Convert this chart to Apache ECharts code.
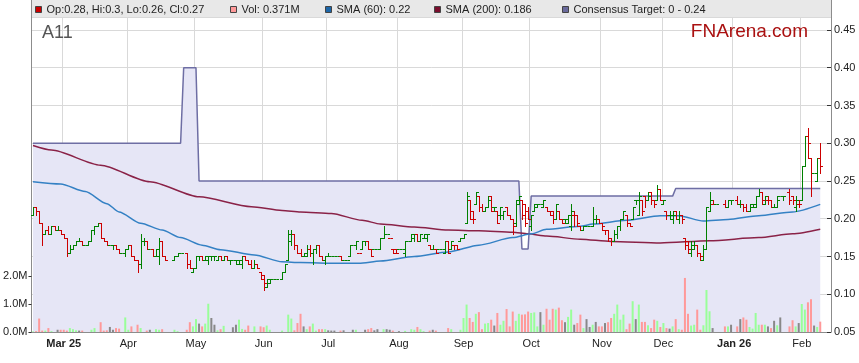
<!DOCTYPE html>
<html><head><meta charset="utf-8">
<script src="https://cdn.jsdelivr.net/npm/echarts@6/dist/echarts.min.js"></script>
<style>html,body{margin:0;padding:0;background:#fff}#c{width:859px;height:363px}</style>
</head><body><div id="c"></div>
<script>
// ---------- data ----------
const firstDay = [2025, 1, 17];   // axis starts Mon 17 Feb 2025 (weekdays only)
const lastDay = [2026, 1, 13];    // axis ends Fri 13 Feb 2026
const monthLabels = {'2025-03':'Mar 25','2025-04':'Apr','2025-05':'May','2025-06':'Jun','2025-07':'Jul','2025-08':'Aug',
  '2025-09':'Sep','2025-10':'Oct','2025-11':'Nov','2025-12':'Dec','2026-01':'Jan 26','2026-02':'Feb'};
const boldLabels = ['Mar 25', 'Jan 26'];
const priceTickLabels = ['0.05','0.10','0.15','0.20','0.25','0.30','0.35','0.40','0.45'];
const volumeTickValues = [0, 1, 2];

// daily [open, high, low, close]; null = market holiday
const ohlc = [
[0.205,0.215,0.205,0.215],[0.215,0.215,0.205,0.21],[0.21,0.21,0.195,0.195],[0.195,0.195,0.165,0.18],[0.18,0.185,0.18,0.185],
[0.185,0.19,0.18,0.18],[0.18,0.19,0.18,0.19],[0.19,0.19,0.185,0.185],[0.185,0.19,0.185,0.185],[0.185,0.185,0.18,0.18],
[0.18,0.18,0.175,0.175],[0.175,0.175,0.15,0.155],[0.155,0.165,0.155,0.16],[0.16,0.165,0.16,0.165],[0.165,0.17,0.165,0.17],
[0.17,0.175,0.17,0.17],[0.17,0.17,0.165,0.165],[0.165,0.165,0.165,0.165],[0.165,0.17,0.165,0.17],[0.17,0.185,0.17,0.185],
[0.185,0.19,0.18,0.19],[0.19,0.195,0.19,0.195],[0.195,0.195,0.175,0.175],[0.175,0.175,0.17,0.17],[0.17,0.17,0.165,0.165],
[0.165,0.165,0.165,0.165],[0.165,0.165,0.16,0.165],[0.165,0.165,0.16,0.16],[0.16,0.16,0.155,0.155],[0.155,0.155,0.155,0.155],
[0.155,0.16,0.15,0.16],[0.16,0.165,0.16,0.165],[0.165,0.165,0.15,0.15],[0.15,0.15,0.145,0.145],[0.145,0.145,0.13,0.14],
[0.14,0.18,0.135,0.17],[0.17,0.175,0.165,0.17],[0.17,0.17,0.16,0.16],[0.16,0.16,0.16,0.16],[0.16,0.16,0.15,0.15],
[0.15,0.16,0.15,0.16],[0.15,0.175,0.14,0.17],[0.17,0.17,0.15,0.15],[0.15,0.15,0.145,0.145],null,
null,[0.145,0.15,0.145,0.15],[0.15,0.155,0.15,0.155],[0.155,0.155,0.155,0.155],null,
[0.155,0.155,0.135,0.14],[0.14,0.145,0.135,0.135],[0.13,0.135,0.13,0.135],[0.135,0.15,0.135,0.15],[0.15,0.15,0.145,0.15],
[0.15,0.15,0.145,0.145],[0.145,0.15,0.145,0.15],[0.145,0.15,0.14,0.15],[0.15,0.15,0.145,0.15],[0.15,0.15,0.145,0.15],
[0.145,0.15,0.145,0.15],[0.15,0.15,0.145,0.145],[0.145,0.15,0.145,0.15],[0.15,0.15,0.145,0.145],[0.145,0.145,0.14,0.145],
[0.145,0.145,0.145,0.145],[0.145,0.145,0.14,0.145],[0.14,0.145,0.14,0.145],[0.14,0.15,0.135,0.15],[0.15,0.15,0.145,0.145],
[0.145,0.145,0.14,0.14],[0.14,0.145,0.135,0.135],[0.135,0.145,0.135,0.14],[0.14,0.14,0.135,0.135],[0.13,0.13,0.12,0.12],
[0.125,0.125,0.105,0.115],[0.11,0.12,0.11,0.12],[0.115,0.12,0.115,0.12],[0.12,0.12,0.12,0.12],[0.12,0.12,0.12,0.12],
null,[0.12,0.13,0.12,0.13],[0.13,0.14,0.13,0.14],[0.145,0.185,0.145,0.18],[0.17,0.185,0.165,0.18],
[0.18,0.18,0.16,0.165],[0.165,0.165,0.155,0.155],[0.155,0.16,0.15,0.15],[0.15,0.155,0.15,0.15],[0.155,0.165,0.15,0.16],
[0.16,0.165,0.15,0.155],[0.155,0.16,0.14,0.16],[0.16,0.165,0.155,0.165],[0.165,0.165,0.15,0.15],[0.15,0.15,0.145,0.145],
[0.145,0.15,0.14,0.15],[0.15,0.155,0.15,0.15],[0.15,0.15,0.15,0.15],[0.15,0.15,0.15,0.15],[0.15,0.15,0.15,0.15],
[0.15,0.15,0.145,0.145],[0.145,0.145,0.145,0.145],[0.145,0.145,0.145,0.145],[0.15,0.165,0.15,0.165],[0.165,0.165,0.165,0.165],
[0.165,0.17,0.16,0.17],[0.155,0.155,0.155,0.155],[0.16,0.17,0.16,0.17],[0.17,0.17,0.165,0.17],[0.17,0.17,0.16,0.16],
[0.16,0.16,0.15,0.15],[0.16,0.16,0.16,0.16],[0.16,0.16,0.16,0.16],[0.16,0.175,0.16,0.175],[0.175,0.19,0.175,0.18],
[0.18,0.18,0.18,0.18],[0.175,0.175,0.175,0.175],[0.16,0.16,0.155,0.155],[0.16,0.16,0.155,0.155],[0.16,0.16,0.16,0.16],
[0.16,0.16,0.16,0.16],[0.155,0.17,0.15,0.17],[0.17,0.17,0.17,0.17],[0.17,0.18,0.17,0.18],[0.175,0.18,0.17,0.18],
[0.18,0.18,0.17,0.17],[0.17,0.18,0.17,0.18],[0.175,0.18,0.175,0.18],[0.175,0.18,0.17,0.18],[0.165,0.165,0.16,0.16],
[0.16,0.165,0.16,0.16],[0.16,0.16,0.155,0.155],[0.16,0.16,0.16,0.16],[0.16,0.16,0.16,0.16],[0.155,0.17,0.155,0.17],
[0.17,0.17,0.155,0.155],[0.16,0.17,0.16,0.17],[0.165,0.165,0.16,0.165],[0.165,0.165,0.16,0.16],[0.17,0.175,0.17,0.175],
[0.175,0.18,0.175,0.18],[0.195,0.235,0.195,0.23],[0.225,0.225,0.2,0.2],[0.21,0.21,0.195,0.2],[0.22,0.235,0.22,0.235],
[0.23,0.23,0.21,0.215],[0.215,0.22,0.21,0.21],[0.21,0.215,0.21,0.215],[0.215,0.23,0.215,0.225],[0.23,0.23,0.21,0.21],
[0.215,0.215,0.21,0.215],[0.21,0.21,0.195,0.195],[0.205,0.215,0.2,0.215],[0.205,0.21,0.2,0.21],[0.215,0.215,0.205,0.205],
[0.205,0.205,0.2,0.2],[0.2,0.2,0.18,0.19],[0.195,0.225,0.19,0.22],[0.225,0.23,0.22,0.23],[0.225,0.225,0.2,0.205],
[0.22,0.22,0.19,0.195],[0.21,0.215,0.2,0.2],[0.19,0.205,0.185,0.205],[0.21,0.22,0.21,0.22],[0.215,0.22,0.215,0.22],
[0.22,0.22,0.22,0.22],[0.215,0.225,0.215,0.225],[0.215,0.215,0.21,0.21],[0.21,0.21,0.205,0.205],[0.21,0.21,0.195,0.2],
[0.2,0.22,0.2,0.22],[0.21,0.21,0.2,0.2],[0.2,0.2,0.195,0.195],[0.2,0.2,0.195,0.2],[0.195,0.205,0.195,0.205],
[0.19,0.22,0.185,0.21],[0.205,0.21,0.19,0.205],[0.205,0.205,0.19,0.195],[0.19,0.19,0.185,0.185],[0.185,0.19,0.185,0.19],
[0.19,0.19,0.19,0.19],[0.19,0.19,0.19,0.19],[0.19,0.215,0.19,0.2],[0.2,0.205,0.195,0.2],[0.2,0.2,0.195,0.195],
[0.195,0.195,0.185,0.19],[0.185,0.185,0.18,0.185],[0.185,0.185,0.17,0.175],[0.175,0.175,0.165,0.17],[0.17,0.185,0.17,0.18],
[0.18,0.19,0.175,0.19],[0.19,0.2,0.185,0.2],[0.2,0.21,0.2,0.21],[0.205,0.205,0.19,0.195],[0.195,0.195,0.19,0.19],
[0.2,0.215,0.2,0.215],[0.225,0.225,0.22,0.225],[0.205,0.235,0.205,0.23],[0.225,0.225,0.205,0.21],[0.23,0.23,0.215,0.225],
[0.225,0.235,0.225,0.23],[0.235,0.235,0.22,0.225],[0.225,0.225,0.215,0.22],[0.225,0.245,0.225,0.24],[0.24,0.24,0.225,0.225],
[0.22,0.225,0.22,0.225],[0.21,0.21,0.2,0.205],[0.205,0.21,0.2,0.205],[0.2,0.21,0.195,0.205],[0.21,0.21,0.2,0.2],
[0.2,0.21,0.195,0.205],[0.205,0.205,0.195,0.2],[0.175,0.175,0.16,0.165],[0.17,0.17,0.155,0.16],[0.155,0.17,0.15,0.165],
[0.16,0.17,0.16,0.165],[0.165,0.165,0.15,0.155],[0.155,0.155,0.145,0.15],[0.145,0.165,0.145,0.16],[0.16,0.215,0.16,0.215],
[0.21,0.235,0.21,0.225],[0.22,0.225,0.22,0.22],[0.22,0.22,0.22,0.22],null,null,
[0.22,0.225,0.215,0.215],[0.215,0.225,0.215,0.225],[0.225,0.225,0.22,0.225],null,[0.225,0.23,0.22,0.22],
[0.22,0.225,0.215,0.22],[0.22,0.22,0.21,0.215],[0.215,0.22,0.21,0.21],[0.21,0.22,0.21,0.22],[0.215,0.22,0.215,0.22],
[0.215,0.23,0.215,0.23],[0.23,0.24,0.23,0.235],[0.235,0.235,0.22,0.225],[0.22,0.23,0.22,0.23],[0.225,0.23,0.22,0.225],
[0.225,0.225,0.215,0.215],[0.215,0.22,0.215,0.215],[0.215,0.23,0.215,0.225],[0.23,0.23,0.23,0.23],[0.23,0.23,0.225,0.23],
null,[0.235,0.24,0.22,0.225],[0.23,0.23,0.22,0.225],[0.215,0.23,0.21,0.225],[0.22,0.225,0.215,0.22],
[0.225,0.27,0.225,0.27],[0.27,0.31,0.27,0.31],[0.31,0.32,0.28,0.30],[0.28,0.28,0.23,0.26],[0.26,0.26,0.26,0.26],
[0.25,0.28,0.25,0.28],[0.28,0.30,0.26,0.27]
];

// daily volume, millions of shares
const volume = [
0.02,0.03,0.48,0.05,0.05,0.14,0.03,0,0.08,0.08,
0.08,0.05,0.14,0.1,0.06,0.05,0.05,0,0,0.08,
0.14,0,0.35,0.05,0.06,0.18,0.08,0.14,0.12,0,
0.52,0.08,0.2,0,0.26,0.14,0,0.05,0.08,0,
0.1,0.08,0.1,0,0,0,0.08,0.03,0,0,
0.08,0.35,0.2,0.46,0.3,0.2,0.3,1.01,0.5,0.26,
0.06,0.1,0.22,0,0,0.17,0.26,0.44,0.11,0.08,
0.23,0,0.2,0,0.2,0.17,0.23,0.08,0,0,
0,0.05,0,0.62,0.48,0.06,0.32,0.65,0.2,0.1,
0.2,0.3,0.05,0.1,0.1,0.1,0.06,0.05,0.05,0,
0.05,0.06,0,0,0.08,0.08,0,0,0.08,0.1,
0.14,0.06,0.1,0,0.1,0.1,0.08,0.05,0,0.03,
0,0.04,0,0.1,0.08,0.18,0.1,0.03,0,0.05,
0.08,0.05,0,0,0,0.14,0.1,0,0,0.08,
0.5,0.98,0.5,0.36,0.65,0.71,0.1,0.3,0.32,0.44,
0.23,0.68,0.26,0.4,0.82,0.2,0.73,0.4,0.65,0.62,
0.63,0.73,0.68,0.7,0.2,0.71,0.26,0.83,0.44,0.83,
0.8,0.87,0.42,0.35,0.54,0.8,0.26,0.32,0.62,0.14,
0.46,0.18,0.26,0.36,0.2,0.2,0.32,0.35,0.5,0.65,
0.98,0.44,0.62,0.1,0.3,1.1,0.46,0.98,0.36,0.36,
0.24,0.14,0.44,0.4,0.18,0.32,0.14,0.12,0.2,0.46,
0.1,0.08,1.93,0.65,0.23,0.26,0.8,0.08,0.24,1.5,
0.74,0.14,0,0,0,0.2,0.2,0.26,0,0.2,
0.46,0.52,0.44,0.18,0.12,0.68,0.26,0.26,0.26,0.2,
0.14,0.4,0.24,0.52,0,0,0.2,0.42,0.2,0.32,
1.0,0.8,1.06,1.17,0.23,0.18,0.37
];

// moving averages: [day index, value]
const sma60 = [[0,0.249],[9,0.246],[17,0.236],[24,0.22],[28,0.209],[35,0.194],[42,0.185],[48,0.175],[55,0.165],
  [61,0.159],[72,0.152],[81,0.143],[87,0.142],[99,0.141],[106,0.141],[113,0.144],[124,0.15],[135,0.156],[145,0.165],
  [156,0.175],[162,0.18],[167,0.186],[178,0.19],[182,0.193],[193,0.198],[204,0.204],[210,0.204],[218,0.197],
  [226,0.199],[236,0.204],[247,0.209],[256,0.219]];
const sma200 = [[0,0.297],[6,0.291],[22,0.271],[38,0.249],[54,0.229],[71,0.216],[81,0.211],[87,0.209],[97,0.207],
  [107,0.198],[113,0.193],[124,0.189],[135,0.185],[145,0.184],[156,0.182],[161,0.18],[167,0.177],[178,0.173],
  [188,0.17],[204,0.168],[220,0.171],[236,0.175],[247,0.18],[256,0.186]];
// consensus target changes: [from day index, value]
const consensusSteps = [[0,0.30],[49,0.40],[54,0.25],[159,0.16],[162,0.23],[209,0.24]];
const lastDataIndex = 256;

// ---------- build ----------
const categories = [];
for (let d = new Date(Date.UTC(...firstDay)); d <= new Date(Date.UTC(...lastDay)); d.setUTCDate(d.getUTCDate() + 1)) {
  const wd = d.getUTCDay();
  if (wd === 0 || wd === 6) continue;
  categories.push(d.toISOString().slice(0, 10));
}
const monthStart = categories.map((c, i) => i > 0 && c.slice(0, 7) !== categories[i - 1].slice(0, 7));

const consensus = [];
for (let i = 0; i <= lastDataIndex; i++) {
  let v = null;
  consensusSteps.forEach(s => { if (s[0] <= i) v = s[1]; });
  consensus.push(v);
}

let prevClose = null;
const barData = [];
const volData = [];
ohlc.forEach((r, i) => {
  if (!r) { volData.push(null); return; }
  const up = r[3] > r[0] ? 1 : (r[3] < r[0] ? 0 : (prevClose === null || r[3] >= prevClose ? 1 : 0));
  barData.push([i, r[0], r[1], r[2], r[3], up]);
  const vc = r[3] > r[0] ? '#99FF99' : (r[3] < r[0] ? '#FF9999' : '#888888');
  volData.push({ value: volume[i], itemStyle: { color: vc } });
  prevClose = r[3];
});

const FONT = '"Liberation Sans", Arial, sans-serif';
const chart = echarts.init(document.getElementById('c'), null, { renderer: 'canvas' });

const legendItems = [
  { x: 35, color: '#CC0000', text: 'Op:0.28, Hi:0.3, Lo:0.26, Cl:0.27' },
  { x: 230, color: '#FF9999', text: 'Vol: 0.371M' },
  { x: 325, color: '#1D66A8', text: 'SMA (60): 0.22' },
  { x: 434, color: '#7A0E2E', text: 'SMA (200): 0.186' },
  { x: 562, color: '#6A6A9C', text: 'Consensus Target: 0 - 0.24' }
];
const graphics = [
  { type: 'rect', shape: { x: 31, y: 0, width: 800, height: 17 }, style: { fill: '#E8E8E8' }, z: 100 },
  { type: 'line', shape: { x1: 31.5, y1: 0, x2: 31.5, y2: 17 }, style: { stroke: '#8c8c8c', lineWidth: 1 }, z: 101 },
  { type: 'line', shape: { x1: 831.5, y1: 0, x2: 831.5, y2: 17 }, style: { stroke: '#8c8c8c', lineWidth: 1 }, z: 101 },
  { type: 'text', z: 101, style: { text: 'A11', x: 42, y: 33.5, fill: '#555', font: '18px ' + FONT, verticalAlign: 'middle' } },
  { type: 'text', z: 101, style: { text: 'FNArena.com', x: 808, y: 32, fill: '#AA1111', font: '19px ' + FONT, align: 'right', verticalAlign: 'middle' } }
];
legendItems.forEach(it => {
  graphics.push({ type: 'rect', z: 102, shape: { x: it.x + 0.5, y: 6.5, width: 6, height: 6 }, style: { fill: it.color, stroke: '#444', lineWidth: 1 } });
  graphics.push({ type: 'text', z: 102, style: { text: it.text, x: it.x + 11.5, y: 10, fill: '#222', font: '11px ' + FONT, verticalAlign: 'middle' } });
});

chart.setOption({
  animation: false,
  backgroundColor: '#fff',
  grid: { left: 31, right: 28, top: 17, bottom: 31, containLabel: false },
  xAxis: {
    type: 'category', data: categories, boundaryGap: true,
    axisLine: { show: true, lineStyle: { color: '#8c8c8c' } },
    axisTick: { show: false },
    axisLabel: {
      interval: (i) => monthStart[i], margin: 6, color: '#222', fontSize: 11, fontFamily: FONT,
      formatter: (v) => { const m = monthLabels[v.slice(0, 7)] || ''; return boldLabels.includes(m) ? '{b|' + m + '}' : m; },
      rich: { b: { fontWeight: 'bold', fontSize: 11, fontFamily: FONT, color: '#222' } }
    },
    splitLine: { show: true, interval: (i) => monthStart[i], lineStyle: { color: '#D9D9D9', width: 1 } }
  },
  yAxis: [
    {
      type: 'value', position: 'right', min: 0.05, max: 0.4672, interval: 0.05,
      axisLine: { show: true, lineStyle: { color: '#8c8c8c' } },
      axisTick: { show: true, inside: true, length: 4, lineStyle: { color: '#333' } },
      axisLabel: { margin: 3, color: '#222', fontSize: 11, fontFamily: FONT, showMaxLabel: false,
        formatter: (v) => { const s = v.toFixed(2); return priceTickLabels.includes(s) ? s : ''; } },
      splitLine: { show: true, lineStyle: { color: '#D9D9D9', width: 1 } }
    },
    {
      type: 'value', position: 'left', min: 0, max: 11.25, interval: 1,
      axisLine: { show: true, lineStyle: { color: '#8c8c8c' } },
      axisTick: { show: true, length: 3, customValues: volumeTickValues, lineStyle: { color: '#333' } },
      axisLabel: { margin: 4, color: '#222', fontSize: 11, fontFamily: FONT, customValues: volumeTickValues,
        formatter: (v) => volumeTickValues.includes(v) ? v.toFixed(1) + 'M' : '' },
      splitLine: { show: false }
    }
  ],
  graphic: graphics,
  series: [
    {
      name: 'Consensus Target', type: 'line', yAxisIndex: 0, data: consensus, symbol: 'none', z: 1, silent: true,
      lineStyle: { color: '#6E6EA4', width: 1.5 },
      areaStyle: { color: '#E6E6F6', opacity: 1, origin: 'start' }
    },
    {
      name: 'Vol', type: 'bar', yAxisIndex: 1, data: volData, barWidth: 2, z: 2, silent: true
    },
    {
      name: 'SMA (200)', type: 'line', yAxisIndex: 0, data: sma200, symbol: 'none', smooth: 0.25, smoothMonotone: 'x',
      lineStyle: { color: '#8A2247', width: 1.5 }, z: 3
    },
    {
      name: 'SMA (60)', type: 'line', yAxisIndex: 0, data: sma60, symbol: 'none', smooth: 0.25, smoothMonotone: 'x',
      lineStyle: { color: '#3481C4', width: 1.5 }, z: 3
    },
    {
      name: 'OHLC', type: 'custom', yAxisIndex: 0, data: barData, z: 4,
      encode: { x: 0, y: [1, 2, 3, 4] },
      renderItem: function (params, api) {
        const i = api.value(0);
        const px = api.coord([i, api.value(1)]);
        const x = Math.round(px[0]) + 0.5;
        const yo = Math.round(px[1]) + 0.5;
        const yh = Math.round(api.coord([i, api.value(2)])[1]);
        const yl = Math.round(api.coord([i, api.value(3)])[1]) + 1;
        const yc = Math.round(api.coord([i, api.value(4)])[1]) + 0.5;
        const col = api.value(5) ? '#008000' : '#CC0000';
        const st = { stroke: col, lineWidth: 1 };
        const ch = [
          { type: 'line', shape: { x1: x - 2.5, y1: yo, x2: x, y2: yo }, style: st },
          { type: 'line', shape: { x1: x, y1: yc, x2: x + 2.5, y2: yc }, style: st }
        ];
        if (yl - yh > 1) ch.push({ type: 'line', shape: { x1: x, y1: yh, x2: x, y2: yl }, style: st });
        return { type: 'group', children: ch };
      }
    }
  ]
});
</script></body></html>
